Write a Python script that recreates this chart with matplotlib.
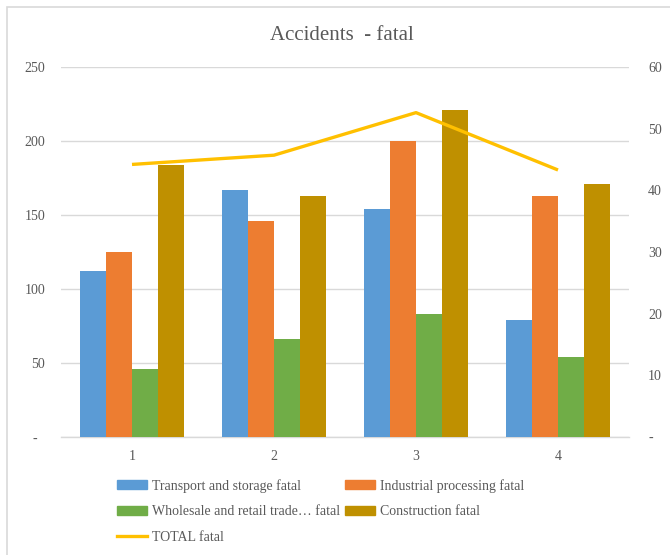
import numpy as np
import matplotlib
matplotlib.use('Agg')
import matplotlib.pyplot as plt
from matplotlib.patches import Rectangle
from matplotlib.lines import Line2D

# accident counts per period
periods = ['1', '2', '3', '4']
transport = [112, 167, 154, 79]
industrial = [125, 146, 200, 163]
wholesale = [46, 66, 83, 54]
construction = [184, 163, 221, 171]
total = [44.2, 45.7, 52.6, 43.3]

series_names = ['Transport and storage fatal', 'Industrial processing fatal',
                'Wholesale and retail trade\u2026 fatal', 'Construction fatal']
series_colors = ['#5B9BD5', '#ED7D31', '#70AD47', '#BF9000']
line_color = '#FFC000'
grid_color = '#D9D9D9'
text_color = '#595959'

plt.rcParams['font.family'] = ['Liberation Serif', 'DejaVu Serif']

fig = plt.figure(figsize=(6.7, 5.55), dpi=100)
ax = fig.add_axes([61/670, 1-437/555, 568/670, 370/555])
ax2 = ax.twinx()

x = np.arange(1, len(periods) + 1)
bar_w = 0.182
for i, (vals, col) in enumerate(zip([transport, industrial, wholesale, construction], series_colors)):
	ax.bar(x + (i - 1.5) * bar_w, vals, width=bar_w, color=col, zorder=3)

ax2.plot(x, total, color=line_color, lw=2.4, solid_capstyle='butt', zorder=4)

ax.set_xlim(0.5, 4.5)
ax.set_ylim(0, 250)
ax2.set_ylim(0, 60)

ax.set_yticks(range(0, 251, 50))
ax.set_yticklabels(['-  '] + [str(v) for v in range(50, 251, 50)])
ax2.set_yticks(range(0, 61, 10))
ax2.set_yticklabels(['-'] + [str(v) for v in range(10, 61, 10)])
ax.set_xticks(x)
ax.set_xticklabels(periods)

ax.grid(axis='y', color=grid_color, lw=1, zorder=0)
ax.set_axisbelow(True)
for a in (ax, ax2):
	for s in a.spines.values():
		s.set_visible(False)
ax.spines['bottom'].set_visible(True)
ax.spines['bottom'].set_color(grid_color)
ax.spines['bottom'].set_linewidth(1)

ax.tick_params(axis='y', length=0, pad=11.5, labelsize=10, labelcolor=text_color)
ax2.tick_params(axis='y', length=0, pad=13.7, labelsize=10, labelcolor=text_color)
ax.tick_params(axis='x', length=0, pad=9.5, labelsize=10, labelcolor=text_color)

fig.text(342/670, 1-35/555, 'Accidents  - fatal', ha='center', va='center',
	fontsize=15, color=text_color)

# legend: column-major order so it reads row by row
handles = [Rectangle((0, 0), 1, 1, color=c) for c in series_colors]
line_h = Line2D([], [], color=line_color, lw=2.4)
order_h = [handles[0], handles[2], line_h, handles[1], handles[3]]
order_l = [series_names[0], series_names[2], 'TOTAL fatal', series_names[1], series_names[3]]
leg = fig.legend(order_h, order_l, ncol=2, loc='upper left',
	bbox_to_anchor=(117/670, 1-479/555), frameon=False, fontsize=10,
	handlelength=2.15, handleheight=0.6, handletextpad=0.36,
	columnspacing=0.36, labelspacing=0.9, borderpad=0, borderaxespad=0)
for t in leg.get_texts():
	t.set_color(text_color)

# chart area outline
fig.add_artist(Rectangle((6.5/670, -0.1), 1.2, 1.1 - 7/555, transform=fig.transFigure,
	fill=False, edgecolor=grid_color, lw=1.2))

fig.savefig('out.png', dpi=100)
